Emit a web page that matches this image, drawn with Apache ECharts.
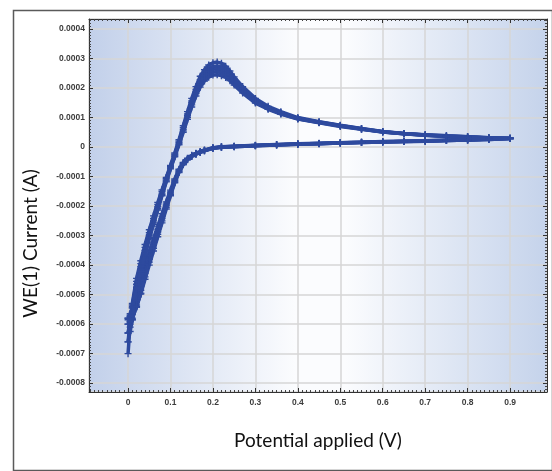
<!DOCTYPE html>
<html>
<head>
<meta charset="utf-8">
<script src="https://cdn.jsdelivr.net/npm/echarts@6/dist/echarts.min.js"></script>
<style>
  html, body { margin: 0; padding: 0; background: #fff; }
  #cv { width: 552px; height: 471px; }
</style>
</head>
<body>
<div id="cv"></div>
<script>
// currents are read in units of 1e-4 A
const UNIT = 1e-4;

// potentials (V) of the forward (anodic) sweep and of the reverse sweep
const fwdPotential = [0, 0.005, 0.01, 0.02, 0.03, 0.04, 0.05, 0.06, 0.07, 0.08, 0.09, 0.10, 0.11, 0.12, 0.13, 0.14,
    0.15, 0.16, 0.17, 0.18, 0.19, 0.20, 0.21, 0.22, 0.23, 0.24, 0.25, 0.27, 0.30, 0.33, 0.36, 0.40,
    0.45, 0.50, 0.55, 0.60, 0.65, 0.70, 0.75, 0.80, 0.85, 0.90];
const revPotential = [0.90, 0.85, 0.80, 0.75, 0.70, 0.65, 0.60, 0.55, 0.50, 0.45, 0.40, 0.35, 0.30, 0.25, 0.22,
    0.20, 0.18, 0.17, 0.16, 0.15, 0.14, 0.13, 0.12, 0.11, 0.10, 0.09, 0.08, 0.07, 0.06, 0.05,
    0.04, 0.03, 0.02, 0.01, 0.005, 0];

// forward sweep currents, one array per cycle
const fwdCycle1 = [-7.0, -6.0, -5.3, -4.45, -3.85, -3.3, -2.8, -2.33, -1.88, -1.45, -1.03, -0.62, -0.2, 0.25, 0.72, 1.2,
    1.65, 2.05, 2.4, 2.62, 2.78, 2.86, 2.88, 2.84, 2.74, 2.58, 2.38, 2.05, 1.65, 1.38, 1.2, 1.0,
    0.86, 0.74, 0.63, 0.53, 0.46, 0.42, 0.38, 0.35, 0.32, 0.30];
const fwdCycle2 = [-6.6, -5.9, -5.35, -4.55, -3.95, -3.4, -2.9, -2.42, -1.95, -1.5, -1.07, -0.65, -0.24, 0.2, 0.66, 1.12,
    1.56, 1.95, 2.28, 2.5, 2.65, 2.73, 2.75, 2.71, 2.62, 2.48, 2.30, 1.98, 1.6, 1.35, 1.17, 0.98,
    0.85, 0.73, 0.62, 0.52, 0.46, 0.41, 0.38, 0.35, 0.32, 0.30];
const fwdCycle3 = [-6.3, -5.85, -5.4, -4.65, -4.05, -3.5, -2.98, -2.5, -2.02, -1.56, -1.11, -0.68, -0.27, 0.16, 0.6, 1.06,
    1.5, 1.88, 2.2, 2.42, 2.56, 2.64, 2.66, 2.62, 2.54, 2.41, 2.24, 1.93, 1.56, 1.32, 1.15, 0.97,
    0.84, 0.72, 0.61, 0.52, 0.45, 0.41, 0.37, 0.34, 0.31, 0.29];
const fwdCycle4 = [-6.0, -5.75, -5.45, -4.75, -4.15, -3.6, -3.06, -2.57, -2.08, -1.61, -1.15, -0.71, -0.3, 0.12, 0.55, 1.0,
    1.43, 1.81, 2.12, 2.33, 2.47, 2.54, 2.56, 2.52, 2.45, 2.33, 2.17, 1.88, 1.52, 1.3, 1.13, 0.96,
    0.83, 0.71, 0.61, 0.51, 0.45, 0.40, 0.36, 0.33, 0.31, 0.29];
const fwdCycle5 = [-5.8, -5.65, -5.45, -4.8, -4.22, -3.66, -3.12, -2.62, -2.13, -1.65, -1.18, -0.74, -0.33, 0.08, 0.5, 0.94,
    1.36, 1.73, 2.03, 2.24, 2.37, 2.44, 2.45, 2.42, 2.36, 2.25, 2.1, 1.83, 1.49, 1.28, 1.12, 0.95,
    0.82, 0.70, 0.60, 0.51, 0.45, 0.40, 0.36, 0.33, 0.31, 0.29];

// reverse sweep currents, one array per cycle
const revCycle1 = [0.30, 0.27, 0.25, 0.23, 0.21, 0.20, 0.185, 0.165, 0.15, 0.13, 0.11, 0.085, 0.06, 0.03, 0.01,
    -0.02, -0.1, -0.15, -0.21, -0.28, -0.38, -0.52, -0.75, -1.08, -1.46, -1.86, -2.26, -2.68, -3.1, -3.54,
    -3.98, -4.52, -5.2, -5.85, -6.25, -6.6];
const revCycle2 = [0.30, 0.27, 0.25, 0.23, 0.21, 0.195, 0.18, 0.16, 0.145, 0.125, 0.105, 0.08, 0.055, 0.025, 0.005,
    -0.03, -0.11, -0.16, -0.22, -0.29, -0.4, -0.54, -0.78, -1.12, -1.52, -1.93, -2.34, -2.78, -3.22, -3.68,
    -4.14, -4.7, -5.35, -5.85, -6.1, -6.3];
const revCycle3 = [0.29, 0.27, 0.24, 0.22, 0.205, 0.19, 0.175, 0.16, 0.14, 0.12, 0.1, 0.075, 0.05, 0.02, 0.0,
    -0.03, -0.12, -0.17, -0.23, -0.3, -0.41, -0.56, -0.81, -1.15, -1.56, -1.98, -2.42, -2.88, -3.34, -3.8,
    -4.28, -4.85, -5.42, -5.8, -5.92, -6.0];
const revCycle4 = [0.29, 0.26, 0.24, 0.22, 0.2, 0.185, 0.17, 0.155, 0.135, 0.115, 0.095, 0.07, 0.045, 0.015, -0.005,
    -0.04, -0.12, -0.18, -0.24, -0.31, -0.42, -0.58, -0.84, -1.18, -1.6, -2.04, -2.5, -2.96, -3.43, -3.9,
    -4.4, -4.95, -5.42, -5.66, -5.74, -5.8];
const revCycle5 = [0.29, 0.26, 0.24, 0.22, 0.2, 0.185, 0.17, 0.155, 0.135, 0.115, 0.095, 0.07, 0.045, 0.015, -0.005,
    -0.04, -0.13, -0.18, -0.24, -0.32, -0.43, -0.6, -0.86, -1.21, -1.65, -2.1, -2.57, -3.04, -3.52, -4.0,
    -4.48, -4.98, -5.4, -5.6, -5.7, -5.85];

const forwardSweeps = [fwdCycle1, fwdCycle2, fwdCycle3, fwdCycle4, fwdCycle5];
const reverseSweeps = [revCycle1, revCycle2, revCycle3, revCycle4, revCycle5];

function initChart() {
    const chartDom = document.getElementById('cv');
    const myChart = echarts.init(chartDom, null, { renderer: 'canvas' });
    const markColor = '#2e4a9e';
    const plusPath = 'path://M4,0 H6 V4 H10 V6 H6 V10 H4 V6 H0 V4 H4 Z';

    const series = forwardSweeps.map((fwd, k) => {
        const rev = reverseSweeps[k];
        const data = fwdPotential.map((v, j) => [v, fwd[j] * UNIT])
            .concat(revPotential.map((v, j) => [v, rev[j] * UNIT]));
        return {
            type: 'line', name: 'cycle ' + (k + 1), data: data,
            xAxisIndex: 0, yAxisIndex: 0,
            symbol: plusPath, symbolSize: 7, showAllSymbol: true,
            itemStyle: { color: markColor },
            lineStyle: { color: markColor, width: 3.5 },
            animation: false
        };
    });

    const gridLine = { show: true, lineStyle: { color: '#d6d6d6', width: 1.5 } };
    const axisLine = { show: true, onZero: false, lineStyle: { color: '#333', width: 1 } };
    const tickIn = { show: true, inside: true, length: 4, lineStyle: { color: '#333' } };
    const minorIn = { show: true, splitNumber: 10, length: 2, lineStyle: { color: '#444' } };

    const xLabel = (v) => {
        const r = Math.round(v * 10);
        if (Math.abs(v * 10 - r) > 1e-6 || r < 0 || r > 9) return '';
        return r === 0 ? '0' : (r / 10).toFixed(1);
    };
    const yLabel = (v) => {
        const r = Math.round(v * 1e4);
        if (Math.abs(v * 1e4 - r) > 1e-6 || r < -8 || r > 4) return '';
        return r === 0 ? '0' : (r / 1e4).toFixed(4);
    };
    const tickFont = { fontFamily: 'Liberation Sans', fontSize: 8.5, fontWeight: 'bold', color: '#3c3c3c' };

    myChart.setOption({
        backgroundColor: '#fff',
        animation: false,
        grid: {
            left: 89, top: 19, right: 5, bottom: 79, show: true, borderWidth: 0,
            backgroundColor: new echarts.graphic.LinearGradient(0, 0, 1, 0, [
                { offset: 0, color: '#c2d0ea' },
                { offset: 0.45, color: '#fbfcfe' },
                { offset: 0.56, color: '#fbfcfe' },
                { offset: 1, color: '#c5d3eb' }
            ])
        },
        xAxis: [{
            type: 'value', position: 'bottom', min: -0.092, max: 0.987, splitNumber: 10,
            axisLine: axisLine, axisTick: tickIn, minorTick: minorIn, splitLine: gridLine,
            axisLabel: Object.assign({ formatter: xLabel, margin: 6 }, tickFont),
            name: 'Potential applied (V)', nameLocation: 'middle', nameGap: 39,
            nameTextStyle: { fontFamily: 'Lato', fontSize: 19, color: '#111' }
        }, {
            type: 'value', position: 'top', min: -0.092, max: 0.987, splitNumber: 10,
            axisLine: axisLine, axisTick: tickIn, minorTick: minorIn,
            axisLabel: { show: false }, splitLine: { show: false }
        }],
        yAxis: [{
            type: 'value', position: 'left', min: -0.00083, max: 0.000434, splitNumber: 12,
            axisLine: axisLine, axisTick: tickIn, minorTick: minorIn, splitLine: gridLine,
            axisLabel: Object.assign({ formatter: yLabel, margin: 4 }, tickFont),
            name: 'WE(1) Current (A)', nameLocation: 'middle', nameGap: 49, nameRotate: 90,
            nameTextStyle: { fontFamily: 'Lato', fontSize: 19, color: '#111', padding: [0, 0, 0, -76] }
        }, {
            type: 'value', position: 'right', min: -0.00083, max: 0.000434, splitNumber: 12,
            axisLine: axisLine, axisTick: tickIn, minorTick: minorIn,
            axisLabel: { show: false }, splitLine: { show: false }
        }],
        graphic: [{
            type: 'rect', left: 11, top: 8, silent: true,
            shape: { width: 539, height: 460 },
            style: { fill: null, stroke: '#5a5a5a', lineWidth: 1.5 }
        }],
        series: series
    });
    window.addEventListener('resize', () => myChart.resize());
}

document.addEventListener('DOMContentLoaded', initChart);
</script>
</body>
</html>
